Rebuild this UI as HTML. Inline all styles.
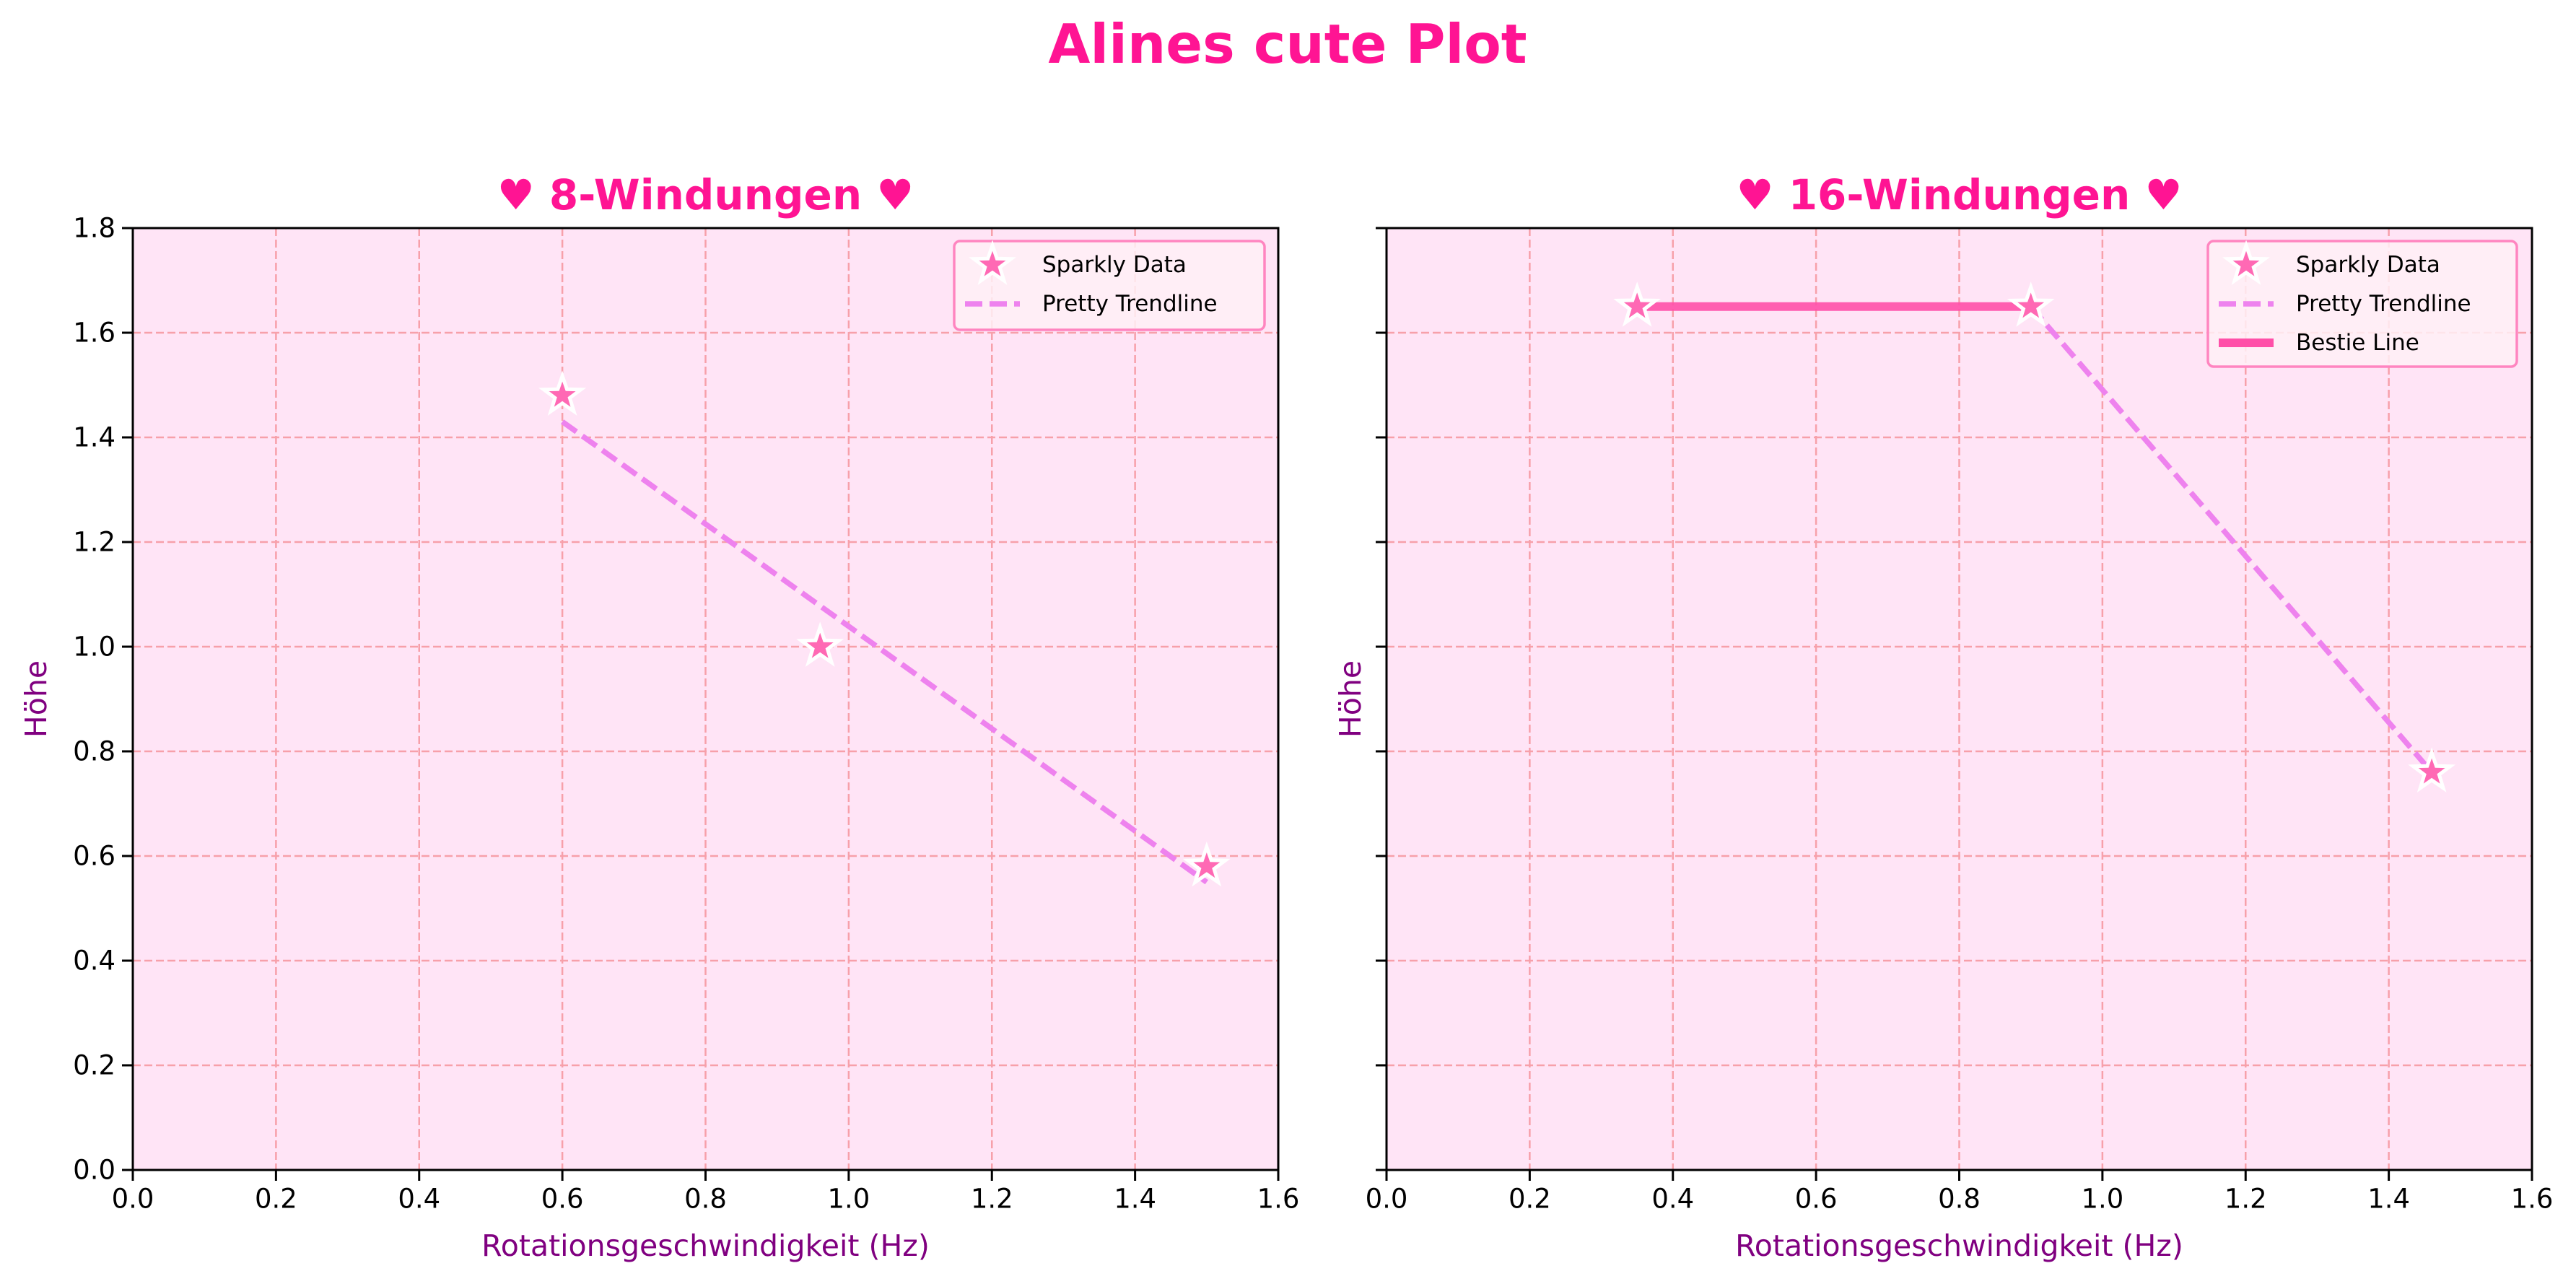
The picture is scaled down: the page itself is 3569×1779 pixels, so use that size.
<!DOCTYPE html>
<html><head><meta charset="utf-8"><style>
html,body{margin:0;padding:0;background:#fff;}
svg{display:block;font-family:"DejaVu Sans","Liberation Sans",sans-serif;}
</style></head><body>
<svg id="chart" width="3569" height="1779" viewBox="0 0 3569 1779" xmlns="http://www.w3.org/2000/svg">
<rect width="3569" height="1779" fill="#fff"/>
<text x="1784" y="61" text-anchor="middle" dominant-baseline="central" font-size="75" font-weight="bold" fill="#ff1493">Alines cute Plot</text>
<g id="p0"></g><g id="p1"></g>
</svg>
<script>
const xTicks = [0.0,0.2,0.4,0.6,0.8,1.0,1.2,1.4,1.6];
const yTicks = [0.0,0.2,0.4,0.6,0.8,1.0,1.2,1.4,1.6,1.8];
const titles = ["♥ 8-Windungen ♥","♥ 16-Windungen ♥"];
const dataX8 = [0.6,0.96,1.5];
const dataY8 = [1.48,1.0,0.58];
const trendX8 = [0.6,1.5];
const trendY8 = [1.43,0.55];
const dataX16 = [0.35,0.9,1.46];
const dataY16 = [1.65,1.65,0.76];
const trendX16 = [0.9,1.46];
const trendY16 = [1.65,0.76];
const bestieX16 = [0.35,0.9];
const bestieY16 = [1.65,1.65];

const NS="http://www.w3.org/2000/svg";
function mk(tag,attrs,parent){const e=document.createElementNS(NS,tag);for(const k in attrs)e.setAttribute(k,attrs[k]);parent.appendChild(e);return e;}
function star(cx,cy,R){let p=[];for(let i=0;i<10;i++){const r=i%2?R*0.4:R;const a=-Math.PI/2+i*Math.PI/5;p.push((cx+r*Math.cos(a)).toFixed(1)+","+(cy+r*Math.sin(a)).toFixed(1));}return p.join(" ");}

const panels=[
 {L:184,R:1771,dx:dataX8,dy:dataY8,tx:trendX8,ty:trendY8,bx:null,by:null,labels:true,legX:1322,legW:430,name:"8-windungen"},
 {L:1921,R:3508,dx:dataX16,dy:dataY16,tx:trendX16,ty:trendY16,bx:bestieX16,by:bestieY16,labels:false,legX:3059,legW:428,name:"16-windungen"}
];
const T=316,B=1621;
panels.forEach((p,pi)=>{
 const g=document.getElementById("p"+pi);
 
 
 const sx=v=>p.L+(v-0)/(1.6-0)*(p.R-p.L);
 const sy=v=>B-(v-0)/(1.8-0)*(B-T);
 const bg=mk('rect',{x:p.L,y:T,width:p.R-p.L,height:B-T,fill:'#ffe4f6'},g);
 
 
 xTicks.forEach(v=>{const l=mk('line',{x1:sx(v),x2:sx(v),y1:T,y2:B,stroke:'#f7a0aa','stroke-width':2.5,'stroke-dasharray':'11 5'},g);
  
  });
 yTicks.forEach(v=>{const l=mk('line',{x1:p.L,x2:p.R,y1:sy(v),y2:sy(v),stroke:'#f7a0aa','stroke-width':2.5,'stroke-dasharray':'11 5'},g);
  
  });
 const tr=mk('polyline',{points:p.tx.map((v,i)=>sx(v)+","+sy(p.ty[i])).join(" "),fill:'none',stroke:'#ee82ee','stroke-width':7.5,'stroke-dasharray':'24 10'},g);
 
 
 if(p.bx){const bl=mk('polyline',{points:p.bx.map((v,i)=>sx(v)+","+sy(p.by[i])).join(" "),fill:'none',stroke:'#ff4fa8','stroke-width':12,'stroke-opacity':0.9},g);
  
  }
 p.dx.forEach((v,i)=>{const s=mk('polygon',{points:star(sx(v),sy(p.dy[i]),27),fill:'#ff69b4',stroke:'#fff','stroke-width':5,'stroke-linejoin':'miter'},g);
  
  });
 const fr=mk('rect',{x:p.L,y:T,width:p.R-p.L,height:B-T,fill:'none',stroke:'#000','stroke-width':3},g);
 
 
 xTicks.forEach(v=>{mk('line',{x1:sx(v),x2:sx(v),y1:B,y2:B+15,stroke:'#000','stroke-width':3},g);
  const t=mk('text',{x:sx(v),y:B+40,'text-anchor':'middle','dominant-baseline':'central','font-size':37,fill:'#000'},g);
  t.textContent=v.toFixed(1);
  
  });
 yTicks.forEach(v=>{mk('line',{x1:p.L-15,x2:p.L,y1:sy(v),y2:sy(v),stroke:'#000','stroke-width':3},g);
  if(p.labels){const t=mk('text',{x:p.L-24,y:sy(v),'text-anchor':'end','dominant-baseline':'central','font-size':37,fill:'#000'},g);
  t.textContent=v.toFixed(1);
  
  }});
 const ti=mk('text',{x:(p.L+p.R)/2,y:270,'text-anchor':'middle','dominant-baseline':'central','font-size':58,'font-weight':'bold',fill:'#ff1493'},g);
 ti.textContent=titles[pi];
 
 
 const xl=mk('text',{x:(p.L+p.R)/2,y:1726,'text-anchor':'middle','dominant-baseline':'central','font-size':41,fill:'#800080'},g);
 xl.textContent="Rotationsgeschwindigkeit (Hz)";
 
 
 const yx=p.L-(p.labels?134:50);
 const yl=mk('text',{x:yx,y:(T+B)/2,'text-anchor':'middle','dominant-baseline':'central','font-size':41,fill:'#800080',transform:`rotate(-90 ${yx} ${(T+B)/2})`},g);
 yl.textContent="Höhe";
 
 
 const entries=p.bx?["Sparkly Data","Pretty Trendline","Bestie Line"]:["Sparkly Data","Pretty Trendline"];
 const lh=entries.length===3?174:123;
 const lg=mk('g',{},g);
 
 
 mk('rect',{x:p.legX,y:334,width:p.legW,height:lh,rx:8,fill:'#fff0f6','fill-opacity':0.85,stroke:'#ff85c0','stroke-width':3.5},lg);
 entries.forEach((e,i)=>{const cy=367+i*54;const mx=p.legX+53;
  if(i===0)mk('polygon',{points:star(mx,cy,27),fill:'#ff69b4',stroke:'#fff','stroke-width':5},lg);
  if(i===1)mk('line',{x1:mx-38,x2:mx+38,y1:cy,y2:cy,stroke:'#ee82ee','stroke-width':7.5,'stroke-dasharray':'24 10'},lg);
  if(i===2)mk('line',{x1:mx-38,x2:mx+38,y1:cy,y2:cy,stroke:'#ff4fa8','stroke-width':12},lg);
  const t=mk('text',{x:p.legX+122,y:cy,'dominant-baseline':'central','font-size':31,fill:'#000'},lg);
  t.textContent=e;
  
  });
});
</script>
</body></html>
